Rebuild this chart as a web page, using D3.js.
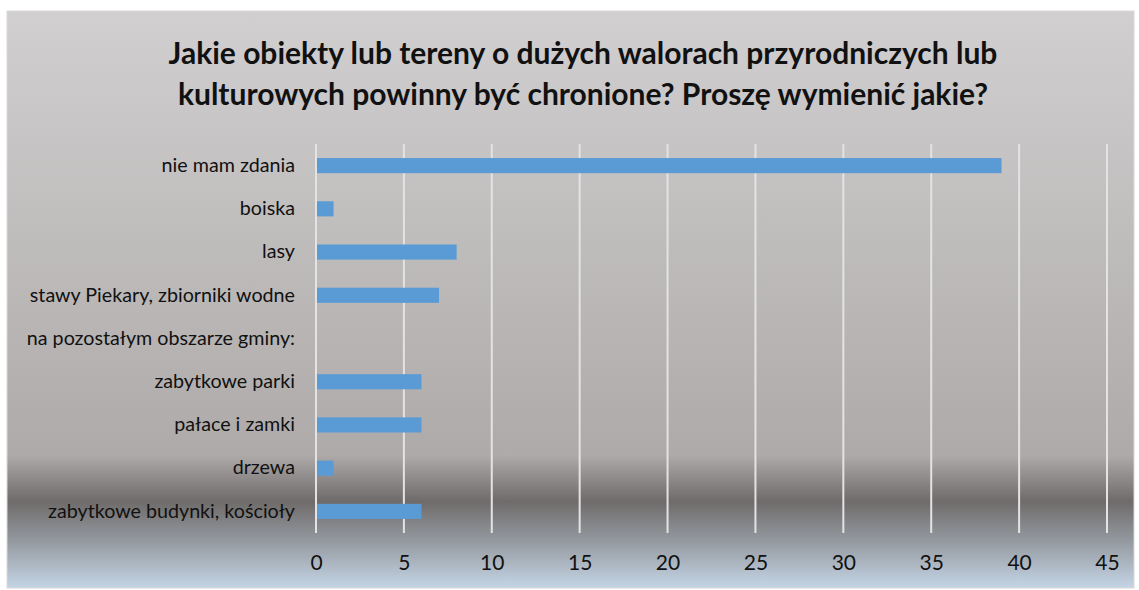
<!DOCTYPE html>
<html>
<head>
<meta charset="utf-8">
<script src="https://cdn.jsdelivr.net/npm/d3@7"></script>
<style>
  body { margin: 0; background: #fff; }
  svg { display: block; font-family: Lato, "Open Sans", sans-serif; }
</style>
</head>
<body>
<svg id="canvas"></svg>
<script>
const WIDTH = 1139;
const HEIGHT = 590;

// top to bottom, as shown
const categories = [
  "nie mam zdania",
  "boiska",
  "lasy",
  "stawy Piekary, zbiorniki wodne",
  "na pozostałym obszarze gminy:",
  "zabytkowe parki",
  "pałace i zamki",
  "drzewa",
  "zabytkowe budynki, kościoły",
];
const values = [39, 1, 8, 7, null, 6, 6, 1, 6];
const xTicks = [0, 5, 10, 15, 20, 25, 30, 35, 40, 45];
const titleLines = [
  "Jakie obiekty lub tereny o dużych walorach przyrodniczych lub",
  "kulturowych powinny być chronione? Proszę wymienić jakie?",
];

const canvas = d3.select("#canvas").attr("width", WIDTH).attr("height", HEIGHT);

// background gradient
const defs = canvas.append("defs");
const grad = defs.append("linearGradient")
  .attr("id", "bg").attr("x1", 0).attr("y1", 0).attr("x2", 0).attr("y2", 1);
[
  [0, "#d1cfd0"],
  [0.77, "#aeaaa9"],
  [0.85, "#6f6b6a"],
  [0.92, "#959aa1"],
  [1, "#c5d5e5"],
].forEach(([o, c]) => grad.append("stop").attr("offset", o).attr("stop-color", c));

canvas.append("rect")
  .attr("x", 7).attr("y", 11).attr("width", 1127).attr("height", 577)
  .attr("fill", "url(#bg)")
  .attr("stroke", "#d9d9d9").attr("stroke-width", 1);

const PLOT_LEFT = 316, PLOT_RIGHT = 1107, PLOT_TOP = 144, PLOT_BOTTOM = 533;

const xScale = d3.scaleLinear().domain([0, 45]).range([PLOT_LEFT, PLOT_RIGHT]);
const yScale = d3.scaleBand().domain(categories).range([PLOT_TOP, PLOT_BOTTOM]).paddingInner(0.65).paddingOuter(0.325);

// gridlines
canvas.append("g")
  .selectAll("line")
  .data(xTicks)
  .enter()
  .append("line")
  .attr("x1", (d) => xScale(d)).attr("x2", (d) => xScale(d))
  .attr("y1", PLOT_TOP).attr("y2", PLOT_BOTTOM)
  .attr("stroke", "#e3e3e3").attr("stroke-width", 2);

// bars
canvas.append("g")
  .selectAll("rect")
  .data(categories.map((c, i) => ({ c, v: values[i] })).filter((d) => d.v != null))
  .enter()
  .append("rect")
  .attr("x", xScale(0) + 1)
  .attr("y", (d) => yScale(d.c))
  .attr("width", (d) => xScale(d.v) - xScale(0) - 1)
  .attr("height", yScale.bandwidth())
  .attr("fill", "#5b9bd5");

// axes
const xAxis = d3.axisBottom(xScale).tickValues(xTicks).tickSize(0).tickPadding(22);
const gx = canvas.append("g")
  .attr("transform", "translate(0," + PLOT_BOTTOM + ")")
  .call(xAxis);
gx.select(".domain").remove();
gx.selectAll("text").attr("font-size", 21).attr("fill", "#111").attr("font-family", "Lato");

const yAxis = d3.axisLeft(yScale).tickSize(0).tickPadding(21);
const gy = canvas.append("g")
  .attr("transform", "translate(" + PLOT_LEFT + ",0)")
  .call(yAxis);
gy.select(".domain").remove();
gy.selectAll("text").attr("font-size", 19.7).attr("fill", "#111").attr("font-family", "Lato");

// title
canvas.append("g")
  .selectAll("text")
  .data(titleLines)
  .enter()
  .append("text")
  .attr("x", 583)
  .attr("y", (d, i) => 64 + i * 41)
  .attr("text-anchor", "middle")
  .attr("font-size", 30)
  .attr("font-weight", "bold")
  .attr("fill", "#111")
  .text((d) => d);
</script>
</body>
</html>
